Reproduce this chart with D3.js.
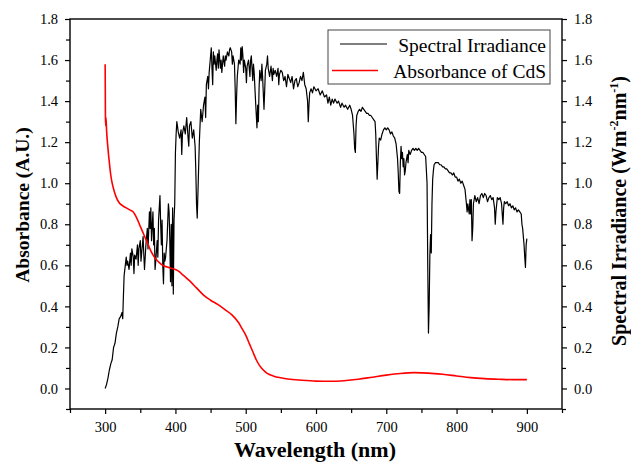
<!DOCTYPE html>
<html lang="en">
  <head>
    <meta charset="utf-8">
    <title>CdS absorbance vs spectral irradiance</title>
    <script src="https://cdn.jsdelivr.net/npm/d3@7"></script>
    <style type="text/css">
      body { margin: 0; background: #fff; }
      .line { fill: none; }
    </style>
  </head>
  <body>
    <svg id="chart" width="631" height="465"></svg>
    <script type="text/javascript">
      // x ticks (nm) and y ticks shared by both value axes
      var xTicks = [300, 400, 500, 600, 700, 800, 900];
      var xMinorTicks = [250, 350, 450, 550, 650, 750, 850, 950];
      var yTicks = [0.0, 0.2, 0.4, 0.6, 0.8, 1.0, 1.2, 1.4, 1.6, 1.8];
      var yMinorTicks = [-0.1, 0.1, 0.3, 0.5, 0.7, 0.9, 1.1, 1.3, 1.5, 1.7];

      var legendNames = ["Spectral Irradiance", "Absorbance of CdS"];

      // absorbance of CdS, [wavelength, A.U.] (left axis)
      var absorbance = [[300,1.58],[300.4,1.32],[300.8,1.28],[301.2,1.32],[302,1.26],[304,1.17],[306,1.10],[308,1.04],[310,1.00],
        [313,0.96],[316,0.93],[320,0.905],[325,0.89],[330,0.88],[335,0.87],[340,0.86],[345,0.83],[350,0.79],[355,0.75],
        [360,0.71],[365,0.67],[370,0.64],[375,0.62],[380,0.605],[385,0.595],[390,0.59],[395,0.585],[400,0.58],[405,0.57],
        [410,0.555],[415,0.54],[420,0.525],[430,0.49],[440,0.455],[450,0.43],[460,0.41],[470,0.385],[480,0.36],[490,0.32],
        [495,0.29],[500,0.26],[505,0.22],[510,0.18],[515,0.14],[520,0.11],[525,0.09],[530,0.075],[540,0.06],[550,0.052],
        [560,0.046],[580,0.04],[600,0.036],[620,0.035],[640,0.038],[660,0.045],[680,0.055],[700,0.065],[720,0.073],
        [740,0.077],[760,0.075],[780,0.069],[800,0.061],[820,0.053],[840,0.048],[860,0.045],[880,0.043],[900,0.043]];

      // solar spectral irradiance, [wavelength, W m-2 nm-1] (right axis)
      var irradiance = [[300,0.00],[302,0.02],[304,0.05],[306,0.09],[308,0.12],[310,0.14],[312,0.20],[314,0.22],[316,0.27],
        [318,0.30],[320,0.34],[322,0.35],[324,0.37],[325,0.34],[326,0.45],[327,0.55],[328,0.58],[330,0.64],[331,0.60],
        [332,0.62],[334,0.58],[336,0.66],[337,0.60],[338,0.68],[340,0.64],[341,0.56],[342,0.65],[344,0.63],[346,0.70],
        [347,0.60],[348,0.68],[350,0.72],[351,0.62],[352,0.66],[354,0.74],[355,0.65],[356,0.58],[358,0.70],[360,0.78],
        [361,0.68],[363,0.86],[364,0.78],[365,0.88],[366,0.72],[368,0.86],[369,0.70],[370,0.78],[371,0.58],[372,0.62],
        [374,0.72],[375,0.64],[376,0.82],[378,0.94],[379,0.80],[380,0.70],[381,0.82],[382,0.60],[383,0.51],[384,0.66],
        [385,0.62],[386,0.64],[388,0.72],[390,0.90],[391,0.86],[392,0.72],[393,0.52],[394,0.80],[395,0.50],[396,0.88],
        [397,0.46],[398,0.82],[399,0.90],[400,1.15],[401,1.24],[402,1.30],[404,1.25],[406,1.22],[408,1.26],[409,1.14],
        [410,1.24],[412,1.28],[414,1.24],[416,1.32],[418,1.22],[419,1.18],[420,1.28],[422,1.30],[424,1.22],[426,1.26],
        [428,1.18],[429,1.06],[430,0.90],[431,0.83],[432,0.95],[434,1.20],[436,1.36],[438,1.30],[440,1.38],[442,1.42],
        [443,1.32],[444,1.48],[446,1.52],[447,1.46],[448,1.54],[450,1.62],[451,1.66],[452,1.56],[453,1.48],[454,1.64],
        [455,1.58],[456,1.62],[458,1.55],[459,1.60],[460,1.63],[461,1.56],[462,1.65],[464,1.56],[465,1.60],[466,1.54],
        [468,1.62],[470,1.57],[471,1.62],[472,1.60],[474,1.64],[476,1.62],[477,1.65],[478,1.66],[480,1.64],[481,1.58],
        [482,1.62],[484,1.58],[485,1.46],[486,1.29],[487,1.42],[488,1.52],[490,1.60],[492,1.58],[493,1.66],[494,1.60],
        [495,1.665],[496,1.62],[497,1.54],[498,1.60],[500,1.56],[501,1.49],[502,1.57],[504,1.60],[506,1.52],[507,1.60],
        [508,1.62],[510,1.50],[511,1.58],[512,1.54],[514,1.40],[516,1.27],[517,1.38],[518,1.30],[519,1.46],[520,1.55],
        [522,1.50],[523,1.58],[524,1.52],[526,1.36],[527,1.45],[528,1.55],[530,1.58],[531,1.62],[532,1.56],[534,1.52],
        [536,1.57],[538,1.50],[539,1.56],[540,1.53],[542,1.55],[544,1.52],[546,1.56],[547,1.48],[548,1.53],[550,1.55],
        [552,1.54],[554,1.50],[556,1.52],[558,1.47],[560,1.53],[562,1.51],[564,1.49],[566,1.52],[568,1.46],[570,1.50],
        [572,1.51],[574,1.47],[576,1.49],[578,1.52],[580,1.50],[582,1.54],[584,1.48],[586,1.46],[588,1.40],[589,1.30],
        [590,1.38],[591,1.44],[593,1.46],[595,1.44],[597,1.47],[600,1.45],[603,1.46],[606,1.43],[609,1.45],[612,1.42],
        [615,1.43],[617,1.39],[619,1.42],[621,1.38],[623,1.41],[625,1.39],[627,1.41],[630,1.39],[632,1.40],[635,1.37],
        [637,1.39],[640,1.37],[642,1.38],[645,1.36],[648,1.38],[650,1.36],[652,1.33],[654,1.24],[655,1.17],[656,1.15],
        [657,1.28],[658,1.33],[660,1.35],[662,1.36],[664,1.35],[666,1.37],[668,1.36],[670,1.35],[672,1.34],[674,1.34],
        [676,1.33],[678,1.33],[680,1.32],[682,1.31],[684,1.30],[685,1.24],[686,1.12],[687,1.02],[688,1.10],[689,1.18],
        [690,1.22],[692,1.21],[694,1.24],[696,1.26],[698,1.27],[700,1.26],[702,1.27],[704,1.26],[706,1.24],[708,1.25],
        [710,1.23],[712,1.22],[714,1.19],[716,1.12],[717,1.05],[718,0.96],[719,0.95],[720,1.10],[721,1.18],[722,1.12],
        [723,1.15],[724,1.08],[725,1.12],[726,1.04],[727,1.06],[728,1.10],[730,1.14],[731,1.10],[732,1.16],[734,1.14],
        [736,1.16],[738,1.17],[740,1.16],[742,1.17],[744,1.16],[746,1.17],[748,1.16],[750,1.15],[752,1.15],[754,1.14],
        [756,1.13],[758,1.00],[759,0.60],[760,0.27],[761,0.40],[762,0.65],[763,0.75],[764,0.66],[765,0.90],[766,1.02],
        [767,1.06],[768,1.09],[770,1.10],[772,1.10],[774,1.10],[776,1.09],[778,1.09],[780,1.08],[782,1.08],[784,1.07],
        [786,1.07],[788,1.06],[790,1.05],[792,1.05],[794,1.04],[796,1.05],[798,1.03],[800,1.03],[802,1.01],[804,1.02],
        [806,1.00],[808,1.01],[810,0.99],[812,0.97],[814,0.90],[815,0.86],[816,0.90],[818,0.85],[819,0.92],[820,0.85],
        [821,0.92],[822,0.72],[823,0.78],[824,0.90],[826,0.94],[828,0.91],[830,0.93],[832,0.90],[834,0.94],[836,0.95],
        [838,0.93],[840,0.95],[842,0.94],[844,0.91],[846,0.93],[848,0.94],[850,0.92],[852,0.93],[854,0.88],[855,0.80],
        [856,0.86],[858,0.93],[860,0.92],[862,0.93],[864,0.90],[866,0.80],[867,0.88],[868,0.91],[870,0.90],[872,0.91],
        [874,0.89],[876,0.90],[878,0.88],[880,0.89],[882,0.87],[884,0.88],[886,0.86],[888,0.87],[890,0.86],[892,0.85],
        [893,0.80],[894,0.78],[895,0.74],[896,0.70],[897,0.64],[898,0.59],[899,0.70],[900,0.73]];

      var serif = "'Liberation Serif', 'Times New Roman', serif";

      var svg = d3.select("#chart"),
        margin = {top: 19, right: 69, bottom: 56, left: 70},
        width = +svg.attr("width") - margin.left - margin.right,
        height = +svg.attr("height") - margin.top - margin.bottom;

      svg.append("rect").attr("width", 631).attr("height", 465).attr("fill", "#fff");

      var x = d3.scaleLinear().domain([250, 950]).range([0, width]);
      var yLeft = d3.scaleLinear().domain([-0.1, 1.8]).range([height, 0]);
      var yRight = d3.scaleLinear().domain([-0.1, 1.8]).range([height, 0]);

      var g = svg.append("g")
        .attr("transform", "translate(" + margin.left + "," + margin.top + ")");

      // data lines
      var absLine = d3.line()
        .x(function(d) { return x(d[0]); })
        .y(function(d) { return yLeft(d[1]); })
        .curve(d3.curveMonotoneX);

      var irrLine = d3.line()
        .x(function(d) { return x(d[0]); })
        .y(function(d) { return yRight(d[1]); });

      g.append("path")
        .datum(irradiance)
        .attr("class", "line")
        .attr("stroke", "#000")
        .attr("stroke-width", 1.2)
        .attr("stroke-linejoin", "round")
        .attr("d", irrLine);

      g.append("path")
        .datum(absorbance)
        .attr("class", "line")
        .attr("stroke", "#ff0000")
        .attr("stroke-width", 1.6)
        .attr("d", absLine);

      // axes: minor ticks first, then majors with labels
      function styleAxis(sel) {
        sel.select(".domain").remove();
        sel.attr("font-family", null).attr("font-size", null);
        sel.selectAll("line").attr("stroke", "#000").attr("stroke-width", 1.2);
        sel.selectAll("text")
          .style("font-family", serif)
          .style("font-size", "14.5px")
          .attr("fill", "#000");
      }

      g.append("g")
        .attr("transform", "translate(0," + height + ")")
        .call(d3.axisBottom(x).tickValues(xMinorTicks).tickSize(4).tickFormat(""))
        .call(styleAxis);
      g.append("g")
        .attr("transform", "translate(0," + height + ")")
        .call(d3.axisBottom(x).tickValues(xTicks).tickSize(5).tickPadding(8).tickFormat(d3.format("d")))
        .call(styleAxis);

      g.append("g")
        .call(d3.axisLeft(yLeft).tickValues(yMinorTicks).tickSize(4).tickFormat(""))
        .call(styleAxis);
      g.append("g")
        .call(d3.axisLeft(yLeft).tickValues(yTicks).tickSize(5).tickPadding(7).tickFormat(d3.format(".1f")))
        .call(styleAxis);

      g.append("g")
        .attr("transform", "translate(" + width + ",0)")
        .call(d3.axisRight(yRight).tickValues(yMinorTicks).tickSize(4).tickFormat(""))
        .call(styleAxis);
      g.append("g")
        .attr("transform", "translate(" + width + ",0)")
        .call(d3.axisRight(yRight).tickValues(yTicks).tickSize(5).tickPadding(7).tickFormat(d3.format(".1f")))
        .call(styleAxis);

      // frame
      g.append("rect")
        .attr("width", width)
        .attr("height", height)
        .attr("fill", "none")
        .attr("stroke", "#000")
        .attr("stroke-width", 1.4);

      // axis titles
      svg.append("text")
        .style("font-family", serif)
        .style("font-size", "22px")
        .style("font-weight", "bold")
        .attr("x", margin.left + width / 2 - 1)
        .attr("y", 457)
        .attr("text-anchor", "middle")
        .text("Wavelength (nm)");

      svg.append("text")
        .style("font-family", serif)
        .style("font-size", "19.5px")
        .style("font-weight", "bold")
        .attr("transform", "translate(29," + (margin.top + height / 2 - 9) + ") rotate(-90)")
        .attr("text-anchor", "middle")
        .text("Absorbance (A.U.)");

      var rightTitle = svg.append("text")
        .style("font-family", serif)
        .style("font-size", "20px")
        .style("font-weight", "bold")
        .attr("transform", "translate(626," + (margin.top + height / 2 - 3) + ") rotate(-90)")
        .attr("text-anchor", "middle");
      rightTitle.append("tspan").text("Spectral Irradiance (Wm");
      rightTitle.append("tspan").style("font-size", "12px").attr("dy", -8).text("-2");
      rightTitle.append("tspan").attr("dy", 8).text("nm");
      rightTitle.append("tspan").style("font-size", "12px").attr("dy", -8).text("-1");
      rightTitle.append("tspan").attr("dy", 8).text(")");

      // legend
      var legend = svg.append("g").attr("transform", "translate(328,30)");
      legend.append("rect")
        .attr("width", 222)
        .attr("height", 54)
        .attr("fill", "#fff")
        .attr("stroke", "#444")
        .attr("stroke-width", 1);

      var legendColors = ["#000", "#ff0000"];
      var legendLineX = [[12, 59], [4, 50]];
      legendNames.forEach(function(name, i) {
        var yy = 14 + i * 26.5;
        legend.append("line")
          .attr("x1", legendLineX[i][0]).attr("x2", legendLineX[i][1])
          .attr("y1", yy).attr("y2", yy)
          .attr("stroke", legendColors[i])
          .attr("stroke-width", i == 0 ? 1.2 : 1.6);
        legend.append("text")
          .style("font-family", serif)
          .style("font-size", "19.5px")
          .attr("x", 218)
          .attr("y", yy + 7.5)
          .attr("text-anchor", "end")
          .text(name);
      });
    </script>
  </body>
</html>
